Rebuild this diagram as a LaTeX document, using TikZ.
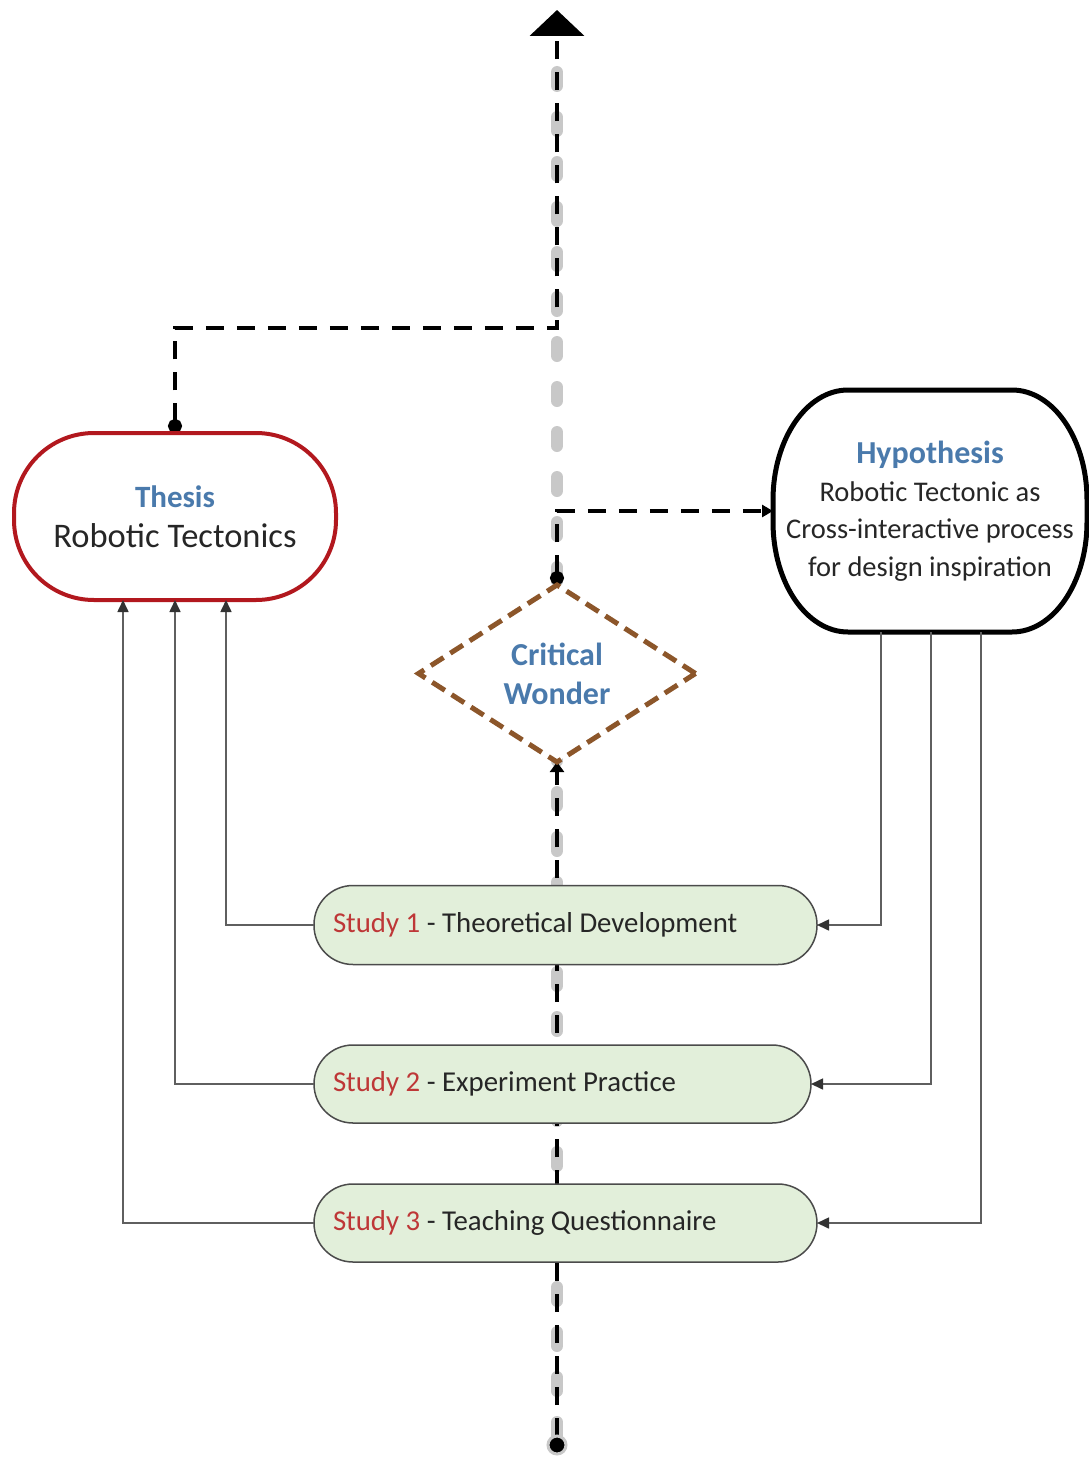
\documentclass[tikz,border=0pt]{standalone}
\usepackage{fontspec}
\setmainfont{Carlito}
\usetikzlibrary{arrows.meta,shapes.geometric}
\pgfdeclarelayer{rails}
\pgfsetlayers{rails,main}
\definecolor{tblue}{RGB}{74,122,172}
\definecolor{txt}{RGB}{38,38,38}
\definecolor{sred}{RGB}{190,55,55}
\definecolor{thesisred}{RGB}{178,24,30}
\definecolor{wonderbrown}{RGB}{140,86,42}
\definecolor{studyfill}{RGB}{226,239,218}
\definecolor{studyline}{RGB}{75,75,75}
\definecolor{railgrey}{RGB}{200,200,200}
\definecolor{linkgrey}{RGB}{95,95,95}
\begin{document}
\begin{tikzpicture}[x=1pt,y=-1pt,
  every node/.style={outer sep=0pt, text=txt},
  bigbox/.style={rectangle, fill=white, align=center, inner sep=0pt},
  studybox/.style={draw=studyline, line width=1.5pt, fill=studyfill, rectangle,
     rounded corners=39pt, minimum height=79pt, inner xsep=19pt, inner ysep=0pt,
     align=flush left, font=\fontsize{28.8}{32}\selectfont},
  railgray/.style={draw=railgrey, line width=12pt, line cap=round, dash pattern=on 14pt off 31pt},
  railblack/.style={draw=black, line width=4.5pt, dash pattern=on 18pt off 13pt},
  link/.style={draw=linkgrey, line width=1.6pt, -{Triangle[length=12pt,width=11pt,color=black!80]}},
  hcorner/.style={x radius=75pt, y radius=110pt}
]
\useasboundingbox (0,0) rectangle (1089,1461);

% main nodes
\node[bigbox, draw=thesisred, line width=4pt, rounded corners=80pt,
      minimum width=322pt, minimum height=167pt,
      font=\fontsize{34.5}{40}\selectfont] (thesis) at (175,516.5)
      {{\fontsize{31}{40}\selectfont\bfseries\color{tblue}Thesis}\\Robotic Tectonics};
\node[bigbox, minimum width=314pt, minimum height=242pt,
      font=\fontsize{28.5}{37.5}\selectfont] (hyp) at (930,511)
      {{\fontsize{32}{37.5}\selectfont\bfseries\color{tblue}Hypothesis}\\Robotic Tectonic as\\Cross-interactive process\\for design inspiration};
% hypothesis outline with elliptic corners (arc angles in page orientation)
\draw[line width=5pt]
  ([xshift=75pt]hyp.north west) -- ([xshift=-75pt]hyp.north east)
  arc[start angle=90, end angle=0, hcorner]
  -- ([yshift=-11pt]hyp.east)
  arc[start angle=0, end angle=-90, hcorner]
  -- ([xshift=75pt]hyp.south west)
  arc[start angle=-90, end angle=-180, hcorner]
  -- ([yshift=11pt]hyp.west)
  arc[start angle=180, end angle=90, hcorner]
  -- cycle;
\node[diamond, aspect=1.56, draw=wonderbrown, fill=white, line width=5pt,
      dash pattern=on 15pt off 8pt, inner sep=0pt,
      minimum width=277pt, minimum height=177pt, align=center,
      text=tblue, font=\fontsize{32}{39}\selectfont\bfseries] (wonder) at (557,673.5)
      {Critical\\Wonder};
\node[circle, fill=black, draw=railgrey, line width=3pt, minimum size=18pt,
      inner sep=0pt] (base) at (557,1445) {};
\coordinate (apex) at (557,10);
\coordinate (railtop) at (557,42);
\coordinate (bend) at (175,328);

% central rail, kept underneath the boxes
\begin{pgfonlayer}{rails}
\draw[railgray] (base) -- (railtop);
\draw[railblack, -{Triangle[length=10pt,width=14pt]}] (base) -- (wonder.south);
\draw[railblack, {Circle[length=14pt]}-{Triangle[length=11pt,width=12pt]}]
      (wonder.north) |- (hyp.west);
\draw[railblack, {Circle[length=14pt]}-{Triangle[length=26pt,width=54pt]}]
      (thesis.north) -- (bend) -| (apex);
\end{pgfonlayer}

% studies
\node[studybox, text width=465pt] (s1) at (565.5,925)
      {\textcolor{sred}{Study 1} - Theoretical Development};
\node[studybox, text width=459pt, minimum height=78pt] (s2) at (562.5,1084)
      {\textcolor{sred}{Study 2} - Experiment Practice};
\node[studybox, text width=465pt, minimum height=78pt] (s3) at (565.5,1223)
      {\textcolor{sred}{Study 3} - Teaching Questionnaire};

% feedback links
\draw[link] (s1.west) -| ([xshift=51pt]thesis.south);
\draw[link] (s2.west) -| (thesis.south);
\draw[link] (s3.west) -| ([xshift=-52pt]thesis.south);
\draw[link] ([xshift=-49pt]hyp.south) |- (s1.east);
\draw[link] ([xshift=1pt]hyp.south) |- (s2.east);
\draw[link] ([xshift=51pt]hyp.south) |- (s3.east);
\end{tikzpicture}
\end{document}
